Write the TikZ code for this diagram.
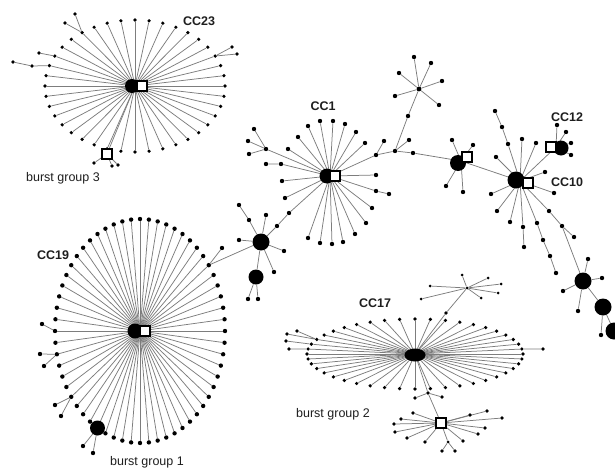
\documentclass[tikz,border=0pt]{standalone}
\usepackage{fontspec}
\setmainfont{Liberation Sans}
\usetikzlibrary{calc,shapes.geometric}
\definecolor{edgec}{RGB}{125,125,125}
\definecolor{labc}{RGB}{30,30,30}
\tikzset{
  ed/.style={draw=edgec, line width=0.75pt},
  dot/.style={circle, fill=black, inner sep=0pt, minimum size=4.4pt},
  sdot/.style={circle, fill=black, inner sep=0pt, minimum size=3.6pt},
  blob/.style={circle, fill=black, inner sep=0pt, minimum size=17pt},
  sqr/.style={rectangle, draw=black, fill=white, line width=2.4pt, inner sep=0pt, minimum size=9.5pt},
  cclab/.style={font=\bfseries\fontsize{12.5}{12.5}\selectfont, text=labc},
  bglab/.style={font=\fontsize{12.5}{12.5}\selectfont, text=labc},
}
\begin{document}
\begin{tikzpicture}[x=1pt,y=-1pt]
\useasboundingbox (0,0) rectangle (615,471);
\clip (0,0) rectangle (615,471);

% ================= CC23 =================
\coordinate (c23) at (135,86);
\foreach \i in {1,...,40} {
  \node[sdot] (c23-\i) at ($(c23)+({(\i-1)*9}:90 and 66)$) {};
  \draw[ed] (c23) -- (c23-\i);
}
\node[sdot] (c23a1) at (65,23) {};
\node[sdot] (c23a2) at (75,14) {};
\draw[ed] (c23-27) -- (c23a1) (c23-27) -- (c23a2);
\node[sdot] (c23b1) at (32,66) {};
\node[sdot] (c23b2) at (13,62) {};
\draw[ed] (c23-23) -- (c23b1) -- (c23b2);
\node[sdot] (c23c1) at (39,53) {};
\draw[ed] (c23-24) -- (c23c1);
\node[sdot] (c23d1) at (232,47) {};
\node[sdot] (c23d2) at (237,54) {};
\draw[ed] (c23-38) -- (c23d1) (c23-38) -- (c23d2);
% burst group 3
\node[sdot] (bg3a) at (94,163) {};
\node[sdot] (bg3b) at (112,166) {};
\node[sdot] (bg3c) at (118,165) {};
\coordinate (bg3) at (107,154);
\draw[ed] (c23) -- (bg3);
\draw[ed] (bg3) -- (bg3a) (bg3) -- (bg3b) (bg3) -- (bg3c);

% ================= CC19 =================
\coordinate (c19) at (140,331);
\foreach \i in {1,...,60} {
  \node[dot] (c19-\i) at ($(c19)+({(\i-1)*6}:85 and 112)$) {};
  \draw[ed] (c19) -- (c19-\i);
}
\node[dot] (c19e1) at (42,324) {};
\draw[ed] (c19-31) -- (c19e1);
\node[dot] (c19e2) at (40,354) {};
\node[dot] (c19e3) at (44,366) {};
\draw[ed] (c19-29) -- (c19e2) (c19-29) -- (c19e3);
\node[dot] (c19e4) at (55,405) {};
\node[dot] (c19e5) at (61,416) {};
\draw[ed] (c19-25) -- (c19e4) (c19-25) -- (c19e5);
\node[dot] (bg1a) at (83,446) {};
\node[dot] (bg1b) at (93,453) {};
\draw[ed] (c19-21) -- (bg1a) (c19-21) -- (bg1b);
\node[blob, minimum size=15pt] (bg1) at (c19-21) {};

% ================= bridge blobs =================
\node[blob] (b1) at (261,242) {};
\node[dot] (c19f) at (222,248) {};
\draw[ed] (c19-55) -- (c19f) (c19-55) -- (b1);
\node[dot] (b1a) at (249,220) {};
\node[dot] (b1b) at (239,205) {};
\node[dot] (b1c) at (266,215) {};
\node[dot] (b1d) at (239,240) {};
\node[dot] (b1e) at (284,251) {};
\node[dot] (b1f) at (274,272) {};
\draw[ed] (b1) -- (b1a) -- (b1b);
\draw[ed] (b1) -- (b1c) (b1) -- (b1d) (b1) -- (b1e) (b1) -- (b1f);
\node[blob, minimum size=15pt] (b2) at (256,277) {};
\draw[ed] (b1) -- (b2);
\node[dot] (b2a) at (248,299) {};
\node[dot] (b2b) at (258,299) {};
\draw[ed] (b2) -- (b2a) (b2) -- (b2b);

% ================= CC1 =================
\coordinate (c1) at (330,176);
\node[dot] (k1) at (277,226) {};
\node[dot] (k2) at (289,213) {};
\draw[ed] (b1) -- (k1) -- (k2) -- (c1);
\foreach \x/\y [count=\i] in {320/121, 333/121, 345/124, 356/132, 365/143, 308/126, 298/137, 288/149, 282/181, 285/198, 376/175, 376/191, 372/208, 366/223, 355/234, 343/242, 332/244, 320/243, 308/238} {
  \node[dot] (c1-\i) at (\x,\y) {};
  \draw[ed] (c1) -- (c1-\i);
}
\node[dot] (c1x) at (389,194) {};
\draw[ed] (c1-12) -- (c1x);
\node[dot] (c1l1) at (281,164) {};
\node[dot] (c1l2) at (266,164) {};
\draw[ed] (c1) -- (c1l1) -- (c1l2);
\node[dot] (c1m) at (266,149) {};
\node[dot] (c1m1) at (254,129) {};
\node[dot] (c1m2) at (248,141) {};
\node[dot] (c1m3) at (249,154) {};
\draw[ed] (c1) -- (c1m);
\draw[ed] (c1m) -- (c1m1) (c1m) -- (c1m2) (c1m) -- (c1m3);
% right chain
\node[dot] (r1) at (376,155) {};
\node[dot] (r1a) at (384,141) {};
\node[dot] (r2) at (395,151) {};
\node[dot] (r2a) at (409,140) {};
\node[dot] (r3) at (413,153) {};
\node[dot] (r4) at (408,116) {};
\node[dot, minimum size=4.8pt] (s1) at (419,89) {};
\draw[ed] (c1) -- (r1) -- (r2) -- (r3);
\draw[ed] (r1) -- (r1a) (r2) -- (r2a);
\draw[ed] (r2) -- (r4) -- (s1);
\foreach \x/\y [count=\i] in {414/57, 431/63, 399/73, 442/81, 395/96, 439/105} {
  \node[dot] (s1-\i) at (\x,\y) {};
  \draw[ed] (s1) -- (s1-\i);
}

% ================= b3 =================
\coordinate (b3) at (461,161);
\draw[ed] (r3) -- (b3);
\foreach \x/\y [count=\i] in {452/140, 473/145, 446/186, 463/192} {
  \node[dot] (b3-\i) at (\x,\y) {};
  \draw[ed] (b3) -- (b3-\i);
}

% ================= CC10 / CC12 =================
\coordinate (c10) at (520,181);
\draw[ed] (b3) -- (c10);
\foreach \x/\y [count=\i] in {496/157, 491/194, 522/139, 536/143, 545/172, 554/193, 497/211, 510/222} {
  \node[dot] (c10-\i) at (\x,\y) {};
  \draw[ed] (c10) -- (c10-\i);
}
\node[dot] (u1) at (508,144) {};
\node[dot] (u2) at (502,127) {};
\node[dot] (u3) at (495,111) {};
\draw[ed] (c10) -- (u1) -- (u2) -- (u3);
\node[dot] (v1) at (523,227) {};
\node[dot] (v2) at (524,247) {};
\draw[ed] (c10) -- (v1) -- (v2);
\node[dot] (w1) at (537,223) {};
\node[dot] (w2) at (543,240) {};
\node[dot] (w3) at (550,256) {};
\node[dot] (w4) at (556,273) {};
\draw[ed] (c10) -- (w1) -- (w2) -- (w3) -- (w4);
\node[dot] (z1) at (549,211) {};
\node[dot] (z2) at (562,226) {};
\node[dot] (z3) at (574,237) {};
\draw[ed] (c10) -- (z1) -- (z2) -- (z3);
\coordinate (c12) at (556,147);
\draw[ed] (c10) -- (c12);
\foreach \x/\y [count=\i] in {557/125, 566/132, 571/143, 571/155} {
  \node[dot] (c12-\i) at (\x,\y) {};
  \draw[ed] (c12) -- (c12-\i);
}
\node[blob] (b4) at (583,281) {};
\draw[ed] (z2) -- (b4);
\foreach \x/\y [count=\i] in {588/259, 602/278, 563/291, 578/311} {
  \node[dot] (b4-\i) at (\x,\y) {};
  \draw[ed] (b4) -- (b4-\i);
}
\node[blob] (b5) at (603,307) {};
\node[blob] (b6) at (614,331) {};
\node[dot] (b5a) at (601,335) {};
\draw[ed] (b4) -- (b5) -- (b6);
\draw[ed] (b5) -- (b5a);

% ================= CC17 =================
\coordinate (c17) at (415,354);
\foreach \i in {1,...,44} {
  \node[sdot] (c17-\i) at ($(c17)+({(\i-1)*360/44}:108 and 35)$) {};
  \draw[ed] (c17) -- (c17-\i);
}
\node[sdot] (c17e1) at (289,349) {};
\draw[ed] (c17-24) -- (c17e1);
\node[sdot] (c17e2) at (286,341) {};
\draw[ed] (c17-25) -- (c17e2);
\node[sdot] (c17e3) at (287,334) {};
\node[sdot] (c17e4) at (297,331) {};
\draw[ed] (c17-26) -- (c17e3) (c17-26) -- (c17e4);
\node[sdot] (c17e5) at (543,349) {};
\draw[ed] (c17-44) -- (c17e5);
% top star
\node[sdot] (t1) at (446,313) {};
\node[sdot, minimum size=3pt] (s2) at (467,288) {};
\draw[ed] (c17) -- (t1) -- (s2);
\foreach \x/\y [count=\i] in {462/275, 488/278, 501/284, 498/293, 481/298, 430/286, 421/299} {
  \node[sdot, minimum size=3pt] (s2-\i) at (\x,\y) {};
  \draw[ed] (s2) -- (s2-\i);
}
% burst group 2
\node[sdot] (m17) at (428,393) {};
\node[sdot] (m17a) at (415,398) {};
\node[sdot] (m17b) at (442,397) {};
\coordinate (bg2) at (441,423);
\draw[ed] (c17) -- (m17) -- (bg2);
\draw[ed] (m17) -- (m17a) (m17) -- (m17b);
\foreach \x/\y [count=\i] in {394/424, 395/432, 401/419, 413/413, 407/438, 425/442, 487/411, 502/418, 485/428, 478/434, 463/441, 470/415} {
  \node[sdot] (bg2-\i) at (\x,\y) {};
  \draw[ed] (bg2) -- (bg2-\i);
}
\node[sdot, minimum size=3pt] (n1) at (448,442) {};
\node[sdot] (n2) at (442,451) {};
\node[sdot] (n3) at (455,451) {};
\draw[ed] (bg2) -- (n1);
\draw[ed] (n1) -- (n2) (n1) -- (n3);

% ================= hubs on top =================
\node[blob, minimum size=14pt] (c23b) at (132,86) {};
\node[sqr] (c23s) at (142,86) {};
\node[sqr, minimum size=10pt] (bg3s) at (bg3) {};
\node[blob, minimum size=15pt] (c19b) at (135,331) {};
\node[sqr] (c19s) at (145,331) {};
\node[blob, minimum size=15pt] (c1b) at (327,176) {};
\node[sqr] (c1s) at (335,176) {};
\node[blob, minimum size=16pt] (b3b) at (458,163) {};
\node[sqr] (b3s) at (467,157) {};
\node[blob, minimum size=17pt] (c10b) at (516,180) {};
\node[sqr] (c10s) at (528,183) {};
\node[blob, minimum size=15pt] (c12b) at (561,148) {};
\node[sqr] (c12s) at (551,147) {};
\node[ellipse, fill=black, inner sep=0pt, minimum width=21pt, minimum height=13pt] (c17b) at (415,355) {};
\node[sqr, minimum size=10.5pt] (bg2s) at (bg2) {};

% ================= labels =================
\node[cclab] (l23) at (199,21) {CC23};
\node[cclab] (l19) at (53,255) {CC19};
\node[cclab] (l1) at (323,106) {CC1};
\node[cclab] (l12) at (567,117) {CC12};
\node[cclab] (l10) at (567,182) {CC10};
\node[cclab] (l17) at (375,303) {CC17};
\node[bglab] (g3) at (63,178) {burst group 3};
\node[bglab] (g1) at (147,462) {burst group 1};
\node[bglab] (g2) at (333,414) {burst group 2};
\end{tikzpicture}
\end{document}
